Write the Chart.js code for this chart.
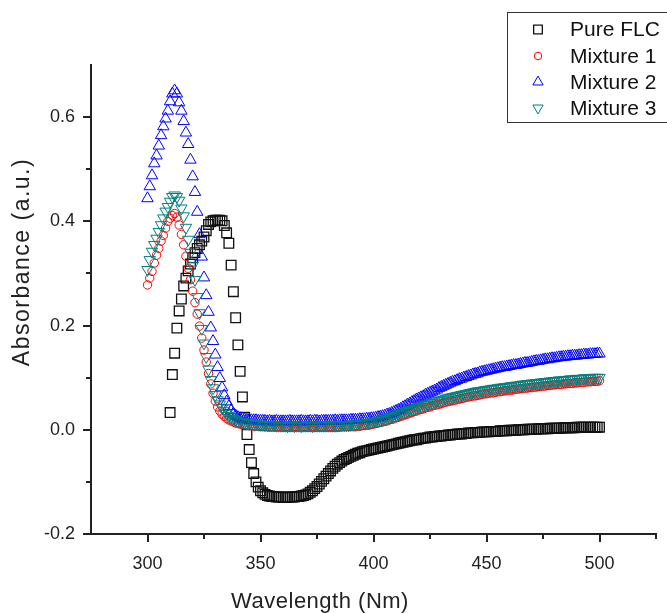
<!DOCTYPE html>
<html>
<head>
<meta charset="utf-8">
<script src="https://cdn.jsdelivr.net/npm/chart.js@4.4.1/dist/chart.umd.min.js"></script>
<style>
html,body{margin:0;padding:0;background:#ffffff;}
#wrap{position:relative;width:667px;height:613px;}
</style>
</head>
<body>
<div id="wrap"><canvas id="c" width="667" height="613"></canvas></div>
<script>
// ---------- DATA ----------
const wavelengths = [
300,301,302,303,304,305,306,307,308,309,
310,311,312,313,314,315,316,317,318,319,
320,321,322,323,324,325,326,327,328,329,
330,331,332,333,334,335,336,337,338,339,
340,341,342,343,344,345,346,347,348,349,
350,351,352,353,354,355,356,357,358,359,
360,361,362,363,364,365,366,367,368,369,
370,371,372,373,374,375,376,377,378,379,
380,381,382,383,384,385,386,387,388,389,
390,391,392,393,394,395,396,397,398,399,
400,401,402,403,404,405,406,407,408,409,
410,411,412,413,414,415,416,417,418,419,
420,421,422,423,424,425,426,427,428,429,
430,431,432,433,434,435,436,437,438,439,
440,441,442,443,444,445,446,447,448,449,
450,451,452,453,454,455,456,457,458,459,
460,461,462,463,464,465,466,467,468,469,
470,471,472,473,474,475,476,477,478,479,
480,481,482,483,484,485,486,487,488,489,
490,491,492,493,494,495,496,497,498,499,
500];

// Pure FLC starts at 310 nm
const pureFLCWavelengths = [
310,311,312,313,314,315,316,317,318,319,
320,321,322,323,324,325,326,327,328,329,
330,331,332,333,334,335,336,337,338,339,
340,341,342,343,344,345,346,347,348,349,
350,351,352,353,354,355,356,357,358,359,
360,361,362,363,364,365,366,367,368,369,
370,371,372,373,374,375,376,377,378,379,
380,381,382,383,384,385,386,387,388,389,
390,391,392,393,394,395,396,397,398,399,
400,401,402,403,404,405,406,407,408,409,
410,411,412,413,414,415,416,417,418,419,
420,421,422,423,424,425,426,427,428,429,
430,431,432,433,434,435,436,437,438,439,
440,441,442,443,444,445,446,447,448,449,
450,451,452,453,454,455,456,457,458,459,
460,461,462,463,464,465,466,467,468,469,
470,471,472,473,474,475,476,477,478,479,
480,481,482,483,484,485,486,487,488,489,
490,491,492,493,494,495,496,497,498,499,
500];

const pureFLC = [
0.033,0.106,0.147,0.195,0.228,0.251,0.276,0.291,0.305,0.318,
0.330,0.340,0.348,0.355,0.362,0.370,0.382,0.394,0.399,0.401,
0.402,0.402,0.402,0.401,0.392,0.378,0.358,0.316,0.265,0.215,
0.163,0.112,0.063,0.024,-0.009,-0.038,-0.063,-0.084,-0.100,-0.110,
-0.117,-0.121,-0.124,-0.126,-0.127,-0.128,-0.128,-0.129,-0.129,-0.129,
-0.130,-0.129,-0.130,-0.129,-0.129,-0.129,-0.128,-0.128,-0.127,-0.126,
-0.125,-0.123,-0.120,-0.117,-0.113,-0.109,-0.104,-0.099,-0.094,-0.089,
-0.084,-0.079,-0.074,-0.070,-0.066,-0.063,-0.060,-0.057,-0.055,-0.053,
-0.051,-0.049,-0.047,-0.045,-0.044,-0.042,-0.041,-0.040,-0.039,-0.038,
-0.037,-0.036,-0.035,-0.034,-0.033,-0.032,-0.031,-0.030,-0.029,-0.028,
-0.027,-0.026,-0.025,-0.024,-0.023,-0.022,-0.021,-0.020,-0.019,-0.019,
-0.018,-0.017,-0.016,-0.016,-0.015,-0.014,-0.014,-0.013,-0.013,-0.012,
-0.012,-0.011,-0.011,-0.010,-0.010,-0.009,-0.009,-0.008,-0.008,-0.008,
-0.007,-0.007,-0.006,-0.006,-0.006,-0.005,-0.005,-0.005,-0.004,-0.004,
-0.004,-0.004,-0.003,-0.003,-0.003,-0.003,-0.002,-0.002,-0.002,-0.002,
-0.001,-0.001,-0.001,-0.001,0.000,0.000,0.000,0.000,0.001,0.001,
0.001,0.001,0.001,0.002,0.002,0.002,0.002,0.002,0.003,0.003,
0.003,0.003,0.003,0.003,0.004,0.004,0.004,0.004,0.004,0.004,
0.005,0.005,0.005,0.005,0.005,0.005,0.005,0.005,0.005,0.005,
0.005];

const mixture1 = [
0.278,0.291,0.304,0.320,0.335,0.348,0.362,0.373,0.387,0.400,
0.406,0.411,0.415,0.408,0.393,0.375,0.355,0.333,0.310,0.288,
0.266,0.244,0.222,0.199,0.176,0.153,0.130,0.108,0.088,0.070,
0.055,0.044,0.036,0.030,0.026,0.022,0.019,0.017,0.015,0.013,
0.012,0.011,0.010,0.009,0.009,0.008,0.008,0.007,0.007,0.007,
0.006,0.006,0.006,0.006,0.005,0.006,0.005,0.005,0.006,0.005,
0.005,0.005,0.005,0.005,0.005,0.005,0.005,0.005,0.005,0.005,
0.005,0.005,0.005,0.005,0.005,0.005,0.005,0.005,0.005,0.005,
0.005,0.005,0.005,0.005,0.005,0.005,0.006,0.006,0.006,0.006,
0.006,0.006,0.006,0.007,0.007,0.008,0.008,0.009,0.009,0.010,
0.011,0.012,0.013,0.014,0.015,0.016,0.017,0.019,0.020,0.021,
0.023,0.024,0.026,0.027,0.029,0.030,0.032,0.033,0.035,0.036,
0.038,0.039,0.040,0.042,0.043,0.044,0.046,0.047,0.048,0.049,
0.050,0.052,0.053,0.054,0.055,0.056,0.057,0.058,0.059,0.060,
0.061,0.062,0.063,0.064,0.065,0.065,0.066,0.067,0.068,0.069,
0.069,0.070,0.071,0.071,0.072,0.073,0.073,0.074,0.075,0.075,
0.076,0.076,0.077,0.078,0.078,0.079,0.079,0.080,0.080,0.081,
0.081,0.082,0.082,0.083,0.083,0.084,0.084,0.085,0.085,0.086,
0.086,0.087,0.087,0.087,0.088,0.088,0.089,0.089,0.089,0.090,
0.090,0.091,0.091,0.091,0.092,0.092,0.092,0.093,0.093,0.093,
0.094];

const mixture2 = [
0.444,0.467,0.488,0.511,0.526,0.545,0.565,0.582,0.597,0.612,
0.630,0.645,0.651,0.645,0.628,0.612,0.592,0.570,0.548,0.518,
0.486,0.456,0.418,0.375,0.332,0.292,0.258,0.226,0.196,0.170,
0.144,0.120,0.099,0.081,0.066,0.054,0.045,0.037,0.031,0.027,
0.024,0.022,0.021,0.020,0.019,0.019,0.018,0.018,0.018,0.017,
0.017,0.017,0.017,0.016,0.017,0.016,0.016,0.017,0.016,0.016,
0.016,0.016,0.016,0.017,0.016,0.016,0.016,0.016,0.017,0.016,
0.016,0.016,0.017,0.016,0.017,0.017,0.016,0.017,0.017,0.017,
0.017,0.017,0.017,0.018,0.017,0.018,0.018,0.018,0.018,0.018,
0.019,0.019,0.019,0.019,0.020,0.020,0.020,0.021,0.021,0.022,
0.022,0.023,0.024,0.025,0.026,0.027,0.029,0.030,0.032,0.034,
0.036,0.038,0.040,0.043,0.045,0.048,0.050,0.053,0.055,0.058,
0.060,0.062,0.064,0.067,0.069,0.071,0.073,0.075,0.077,0.080,
0.082,0.084,0.086,0.088,0.090,0.092,0.093,0.095,0.097,0.098,
0.100,0.101,0.103,0.104,0.106,0.107,0.108,0.110,0.111,0.112,
0.113,0.114,0.115,0.116,0.117,0.118,0.119,0.120,0.120,0.121,
0.122,0.123,0.124,0.124,0.125,0.126,0.127,0.128,0.128,0.129,
0.130,0.131,0.132,0.132,0.133,0.134,0.135,0.135,0.136,0.137,
0.137,0.138,0.139,0.139,0.140,0.140,0.141,0.141,0.142,0.142,
0.142,0.143,0.143,0.144,0.144,0.144,0.145,0.145,0.145,0.146,
0.146];

const mixture3 = [
0.307,0.326,0.342,0.355,0.367,0.380,0.393,0.406,0.419,0.428,
0.438,0.447,0.450,0.447,0.440,0.425,0.410,0.388,0.365,0.340,
0.315,0.288,0.255,0.224,0.194,0.166,0.140,0.116,0.096,0.080,
0.067,0.057,0.049,0.042,0.036,0.031,0.027,0.024,0.021,0.019,
0.017,0.016,0.015,0.014,0.013,0.012,0.012,0.011,0.011,0.010,
0.010,0.010,0.009,0.009,0.009,0.009,0.009,0.008,0.008,0.008,
0.008,0.008,0.007,0.008,0.008,0.007,0.008,0.008,0.007,0.008,
0.008,0.008,0.008,0.007,0.008,0.008,0.008,0.008,0.008,0.008,
0.008,0.008,0.008,0.008,0.008,0.009,0.009,0.009,0.009,0.009,
0.010,0.010,0.010,0.011,0.011,0.012,0.012,0.013,0.013,0.014,
0.015,0.016,0.017,0.018,0.019,0.020,0.022,0.023,0.025,0.026,
0.028,0.030,0.031,0.033,0.035,0.036,0.038,0.039,0.041,0.042,
0.044,0.045,0.047,0.048,0.049,0.051,0.052,0.053,0.055,0.056,
0.057,0.058,0.060,0.061,0.062,0.063,0.064,0.065,0.066,0.067,
0.068,0.069,0.070,0.071,0.072,0.073,0.074,0.074,0.075,0.076,
0.077,0.077,0.078,0.079,0.079,0.080,0.081,0.081,0.082,0.082,
0.083,0.084,0.084,0.085,0.085,0.086,0.087,0.087,0.088,0.088,
0.089,0.089,0.090,0.090,0.091,0.091,0.092,0.092,0.093,0.093,
0.094,0.094,0.095,0.095,0.095,0.096,0.096,0.097,0.097,0.097,
0.098,0.098,0.098,0.099,0.099,0.099,0.099,0.100,0.100,0.100,
0.100];

const seriesNames = ['Pure FLC', 'Mixture 1', 'Mixture 2', 'Mixture 3'];
const xMajorTicks = [300, 350, 400, 450, 500];
const xMinorTicks = [325, 375, 425, 475, 525];
const yMajorTicks = [-0.2, 0.0, 0.2, 0.4, 0.6];
const yMinorTicks = [-0.1, 0.1, 0.3, 0.5];
const xTitle = 'Wavelength (Nm)';
const yTitle = 'Absorbance (a.u.)';

// ---------- STYLE ----------
const seriesColors = ['#111111', '#ff0000', '#0000ff', '#008080'];
const seriesStyles = ['rect', 'circle', 'triangle', 'triangle'];
const seriesRotation = [0, 0, 0, 180];
const seriesRadius = [6.8, 4.2, 6.6, 6.6];
const seriesBorder = [1.3, 1, 1, 1];
const seriesOrder = [4, 3, 2, 1];
const FONT = '"Liberation Sans", Arial, sans-serif';
const AXIS_COLOR = '#222222';

function toPoints(xs, ys) { return xs.map((x, i) => ({ x: x, y: ys[i] })); }

const seriesData = [
  toPoints(pureFLCWavelengths, pureFLC),
  toPoints(wavelengths, mixture1),
  toPoints(wavelengths, mixture2),
  toPoints(wavelengths, mixture3)
];

const datasets = seriesNames.map((name, i) => ({
  label: name,
  data: seriesData[i],
  order: seriesOrder[i],
  showLine: false,
  pointStyle: seriesStyles[i],
  rotation: seriesRotation[i],
  pointRotation: seriesRotation[i],
  pointRadius: seriesRadius[i],
  pointHoverRadius: seriesRadius[i],
  pointBorderWidth: seriesBorder[i],
  pointBorderColor: seriesColors[i],
  pointBackgroundColor: 'rgba(255,255,255,0)',
  borderColor: seriesColors[i],
  backgroundColor: 'rgba(255,255,255,0)'
}));

function drawMarker(ctx, style, rot, r, cx, cy) {
  ctx.beginPath();
  if (style === 'rect') {
    const s = Math.SQRT1_2 * r;
    ctx.rect(cx - s, cy - s, 2 * s, 2 * s);
  } else if (style === 'circle') {
    ctx.arc(cx, cy, r, 0, Math.PI * 2);
  } else {
    let a = rot * Math.PI / 180;
    ctx.moveTo(cx + Math.sin(a) * r, cy - Math.cos(a) * r);
    a += 2 * Math.PI / 3;
    ctx.lineTo(cx + Math.sin(a) * r, cy - Math.cos(a) * r);
    a += 2 * Math.PI / 3;
    ctx.lineTo(cx + Math.sin(a) * r, cy - Math.cos(a) * r);
    ctx.closePath();
  }
  ctx.stroke();
}

const decorPlugin = {
  id: 'decor',
  afterDraw(chart) {
    const ctx = chart.ctx;
    const xs = chart.scales.x, ys = chart.scales.y;
    const ca = chart.chartArea;
    ctx.save();
    // tick marks (outside)
    ctx.strokeStyle = AXIS_COLOR;
    ctx.lineWidth = 2;
    ctx.beginPath();
    xMajorTicks.forEach(v => { const p = Math.round(xs.getPixelForValue(v)); ctx.moveTo(p, ca.bottom); ctx.lineTo(p, ca.bottom + 8); });
    xMinorTicks.forEach(v => { const p = Math.round(xs.getPixelForValue(v)); ctx.moveTo(p, ca.bottom); ctx.lineTo(p, ca.bottom + 5); });
    yMajorTicks.forEach(v => { const p = Math.round(ys.getPixelForValue(v)); ctx.moveTo(ca.left, p); ctx.lineTo(ca.left - 8, p); });
    yMinorTicks.forEach(v => { const p = Math.round(ys.getPixelForValue(v)); ctx.moveTo(ca.left, p); ctx.lineTo(ca.left - 5, p); });
    ctx.stroke();

    // axis titles
    ctx.fillStyle = AXIS_COLOR;
    ctx.textAlign = 'center';
    ctx.textBaseline = 'middle';
    ctx.font = '22px ' + FONT;
    try { ctx.letterSpacing = '0.5px'; } catch (e) {}
    ctx.fillText(xTitle, 320, 602);
    ctx.save();
    ctx.translate(23, 262);
    ctx.rotate(-Math.PI / 2);
    ctx.font = '23px ' + FONT;
    try { ctx.letterSpacing = '1.5px'; } catch (e) {}
    ctx.fillText(yTitle, 0, 0);
    ctx.restore();
    try { ctx.letterSpacing = '0px'; } catch (e) {}

    // legend
    ctx.fillStyle = '#ffffff';
    ctx.fillRect(507, 12, 170, 110);
    ctx.strokeStyle = '#333333';
    ctx.lineWidth = 1;
    ctx.strokeRect(507.5, 12.5, 180, 110);
    const rowsY = [29.5, 56, 82, 108];
    ctx.font = '21px ' + FONT;
    ctx.textAlign = 'left';
    ctx.textBaseline = 'middle';
    seriesNames.forEach((name, i) => {
      ctx.strokeStyle = seriesColors[i];
      ctx.lineWidth = seriesBorder[i];
      drawMarker(ctx, seriesStyles[i], seriesRotation[i], seriesRadius[i] * 0.9, 538, rowsY[i]);
      ctx.fillStyle = '#111111';
      ctx.fillText(name, 570, rowsY[i] + 1);
    });
    ctx.restore();
  }
};

new Chart(document.getElementById('c'), {
  type: 'scatter',
  data: { datasets: datasets },
  options: {
    responsive: false,
    animation: false,
    events: [],
    layout: { padding: { top: 65, right: 11, left: 0, bottom: 0 } },
    plugins: { legend: { display: false }, tooltip: { enabled: false }, title: { display: false } },
    scales: {
      x: {
        type: 'linear',
        min: 275,
        max: 525,
        afterBuildTicks: s => { s.ticks = xMajorTicks.map(v => ({ value: v })); },
        afterFit: s => { s.height = 79; },
        grid: { display: false, drawTicks: false },
        border: { display: true, color: AXIS_COLOR, width: 2 },
        ticks: {
          autoSkip: false, maxRotation: 0, padding: 19,
          color: AXIS_COLOR, font: { family: FONT, size: 18 },
          callback: v => String(v)
        }
      },
      y: {
        type: 'linear',
        min: -0.2,
        max: 0.7,
        afterBuildTicks: s => { s.ticks = yMajorTicks.map(v => ({ value: v })); },
        afterFit: s => { s.width = 91; },
        grid: { display: false, drawTicks: false },
        border: { display: true, color: AXIS_COLOR, width: 2 },
        ticks: {
          autoSkip: false, padding: 16,
          color: AXIS_COLOR, font: { family: FONT, size: 18 },
          callback: v => Number(v).toFixed(1)
        }
      }
    }
  },
  plugins: [decorPlugin]
});
</script>
</body>
</html>
